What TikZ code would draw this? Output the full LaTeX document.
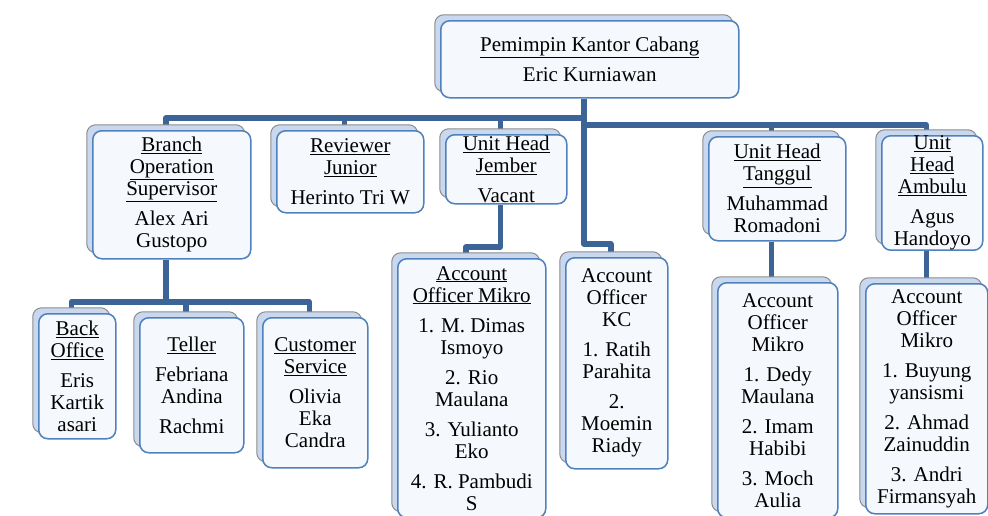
\documentclass[tikz,border=0pt]{standalone}
\usepackage{fontspec}
\setmainfont{Liberation Serif}
\usetikzlibrary{shadows,backgrounds}

\definecolor{boxline}{HTML}{4F81BD}
\definecolor{boxfill}{HTML}{F5F8FC}
\definecolor{backfill}{HTML}{C9D8EF}
\definecolor{backline}{HTML}{8C8C8C}
\definecolor{linkblue}{HTML}{3C6496}

\begin{document}
\begin{tikzpicture}[x=1pt,y=-1pt,
    box/.style={draw=boxline,line width=1.5pt,fill=boxfill,rounded corners=9pt,
      anchor=north west,align=center,inner xsep=2pt,inner ysep=0pt,
      font=\fontsize{21}{22}\selectfont,
      copy shadow={shadow xshift=-6pt,shadow yshift=6pt,draw=backline,line width=1pt,fill=backfill}},
    link/.style={draw=linkblue,line width=5.5pt,line join=round}]
      \useasboundingbox (0,0) rectangle (988,515);
      \clip (0,0) rectangle (988,515);

      \node[box,minimum width=298pt,minimum height=77pt] (0) at (440,20) {\underline{Pemimpin Kantor Cabang}\\[8pt] Eric Kurniawan};
      \node[box,minimum width=158pt,minimum height=128pt] (1) at (92,130) {\underline{Branch}\\ \underline{Operation}\\ \underline{Supervisor}\\[8pt] Alex Ari\\ Gustopo};
      \node[box,minimum width=147pt,minimum height=82pt] (2) at (276,130) {\underline{Reviewer}\\ \underline{Junior}\\[8pt] Herinto Tri W};
      \node[box,minimum width=121pt,minimum height=69pt] (3) at (445,134) {\underline{Unit Head}\\ \underline{Jember}\\[8pt] Vacant};
      \node[box,minimum width=137pt,minimum height=104pt] (4) at (708,136) {\underline{Unit Head}\\ \underline{Tanggul}\\[8pt] Muhammad\\ Romadoni};
      \node[box,minimum width=101pt,minimum height=112pt] (5) at (881,135) {\underline{Unit}\\ \underline{Head}\\ \underline{Ambulu}\\[8pt] Agus\\ Handoyo};
      \node[box,minimum width=77pt,minimum height=125pt] (6) at (38,313) {\underline{Back}\\ \underline{Office}\\[8pt] Eris\\ Kartik\\ asari};
      \node[box,minimum width=104pt,minimum height=135pt] (7) at (139,317) {\underline{Teller}\\[8pt] Febriana\\ Andina\\[8pt] Rachmi};
      \node[box,minimum width=105pt,minimum height=150pt] (8) at (262,317) {\underline{Customer}\\ \underline{Service}\\[8pt] Olivia\\ Eka\\ Candra};
      \node[box,minimum width=148pt,minimum height=259pt] (9) at (397,258) {\underline{Account}\\ \underline{Officer Mikro}\\[8pt] 1. M. Dimas\\ Ismoyo\\[8pt] 2. Rio\\ Maulana\\[8pt] 3. Yulianto\\ Eko\\[8pt] 4. R. Pambudi\\ S};
      \node[box,minimum width=102pt,minimum height=211pt] (10) at (565,257) {Account\\ Officer\\ KC\\[8pt] 1. Ratih\\ Parahita\\[8pt] 2.\\ Moemin\\ Riady};
      \node[box,minimum width=120pt,minimum height=235pt] (11) at (717,282) {Account\\ Officer\\ Mikro\\[8pt] 1. Dedy\\ Maulana\\[8pt] 2. Imam\\ Habibi\\[8pt] 3. Moch\\ Aulia};
      \node[box,minimum width=122pt,minimum height=230pt] (12) at (865,283) {Account\\ Officer\\ Mikro\\[8pt] 1. Buyung\\ yansismi\\[8pt] 2. Ahmad\\ Zainuddin\\[8pt] 3. Andri\\ Firmansyah};

      % drop points sit under the middle of the back card
      \foreach \i in {0,...,12} {
        \coordinate (n\i) at ([xshift=-6pt]\i.north);
        \coordinate (s\i) at ([xshift=-6pt]\i.south);
      }
      \coordinate (barL) at (0,118);
      \coordinate (barR) at (0,125);
      \coordinate (barB) at (0,302);
      \coordinate (kcbend) at (0,244);
      \coordinate (jbend) at (0,247);

      \begin{scope}[on background layer]
        \draw[link] (s0) -- (s0 |- kcbend) -| (n10);
        \draw[link] (n1) |- (s0 |- barL);
        \draw[link] (n2) -- (n2 |- barL);
        \draw[link] (n3) -- (n3 |- barL);
        \draw[link] (n5) |- (s0 |- barR);
        \draw[link] (n4) -- (n4 |- barR);
        \draw[link] (s3) -- (s3 |- jbend) -| (n9);
        \draw[link] (s4) -- (s4 |- n11);
        \draw[link] (s5) -- (s5 |- n12);
        \draw[link] (s1) -- (s1 |- barB);
        \draw[link] (n6) |- (s1 |- barB) -| (n8);
        \draw[link] (n7) -- (n7 |- barB);
      \end{scope}

    \end{tikzpicture}
\end{document}
